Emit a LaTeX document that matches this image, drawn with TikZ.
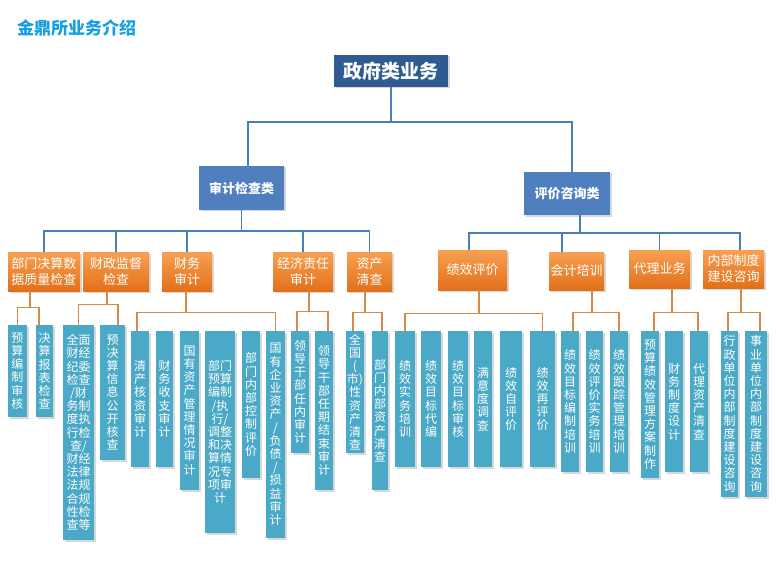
\documentclass[tikz,border=0pt]{standalone}
\usepackage{fontspec}
\setmainfont{Noto Sans CJK SC}
\usetikzlibrary{shadows}
\definecolor{ctitle}{HTML}{16A0E0}
\definecolor{ctop}{HTML}{2F5B92}
\definecolor{clvl}{HTML}{4F7FBE}
\definecolor{corT}{HTML}{F7A052}
\definecolor{corB}{HTML}{E2701A}
\definecolor{cleaf}{HTML}{4AA9C6}
\definecolor{cbl}{HTML}{4A7EBB}
\definecolor{cog}{HTML}{D68A4A}
\newcommand\mkbox[7]{\node[#2, minimum width={#5pt-#3pt}, minimum height={#6pt-#4pt}] (#1) at ({(#3+#5)/2},{(#4+#6)/2}) {#7};}
\tikzset{
  shd/.style={drop shadow={shadow xshift=1.5pt, shadow yshift=-1.5pt, opacity=0.25, fill=black!60}},
  topbox/.style={rectangle, inner sep=0pt, fill=ctop, text=white, shd, font=\fontsize{19}{22}\selectfont\bfseries},
  lvbox/.style={rectangle, inner sep=0pt, fill=clvl, text=white, shd, font=\fontsize{13}{16}\selectfont\bfseries},
  orbox/.style={rectangle, inner sep=0pt, top color=corT, bottom color=corB, text=white, shd, align=center, font=\fontsize{13}{16}\selectfont},
  leaf/.style={rectangle, inner sep=0pt, fill=cleaf, text=white, shd, align=center, font=\fontsize{12}{13.2}\selectfont},
  bl/.style={draw=cbl, line width=1.6pt},
  og/.style={draw=cog, line width=1.3pt}
}
\begin{document}
\begin{tikzpicture}[x=1pt, y=-1pt]
\useasboundingbox (0,0) rectangle (776,572);
\fill[white] (0,0) rectangle (776,572);
\node[anchor=west, text=ctitle, font=\fontsize{17}{20}\selectfont\bfseries, inner sep=0pt] (title) at (17,28) {金鼎所业务介绍};
% top and level 2
\mkbox{top}{topbox}{334}{55}{448}{87}{政府类业务}
\mkbox{audit}{lvbox}{199}{166}{284}{210}{审计检查类}
\mkbox{eval}{lvbox}{524}{172}{610}{215}{评价咨询类}
% level 3
\mkbox{m1}{orbox}{8}{252}{80}{291}{部门决算数\\据质量检查}
\mkbox{m2}{orbox}{83}{252}{149}{291}{财政监督\\检查}
\mkbox{m3}{orbox}{162}{252}{212}{291}{财务\\审计}
\mkbox{m4}{orbox}{273}{252}{333}{291}{经济责任\\审计}
\mkbox{m5}{orbox}{347}{252}{392}{291}{资产\\清查}
\mkbox{m6}{orbox}{438}{250}{507}{290}{绩效评价}
\mkbox{m7}{orbox}{549}{252}{604}{290}{会计培训}
\mkbox{m8}{orbox}{629}{250}{690}{288}{代理业务}
\mkbox{m9}{orbox}{703}{250}{764}{288}{内部制度\\建设咨询}
% leaves
\mkbox{L1}{leaf}{8}{325}{27}{417}{预\\算\\编\\制\\审\\核}
\mkbox{L2}{leaf}{36}{325}{53}{417}{决\\算\\报\\表\\检\\查}
\mkbox{L3}{leaf}{63}{325}{94}{540}{全面\\财经\\纪委\\检查\\/财\\务制\\度执\\行检\\查/\\财经\\法律\\法规\\合规\\性检\\查等}
\mkbox{L4}{leaf}{100}{325}{125}{460}{预\\决\\算\\信\\息\\公\\开\\核\\查}
\mkbox{L5}{leaf}{131}{331}{149}{467}{清\\产\\核\\资\\审\\计}
\mkbox{L6}{leaf}{156}{331}{173}{467}{财\\务\\收\\支\\审\\计}
\mkbox{L7}{leaf}{180}{331}{199}{490}{国\\有\\资\\产\\管\\理\\情\\况\\审\\计}
\mkbox{L8}{leaf}{205}{331}{235}{533}{部门\\预算\\编制\\/执\\行/\\调整\\和决\\算情\\况专\\项审\\计}
\mkbox{L9}{leaf}{242}{331}{260}{478}{部\\门\\内\\部\\控\\制\\评\\价}
\mkbox{L10}{leaf}{266}{331}{285}{538}{国\\有\\企\\业\\资\\产\\/\\负\\债\\/\\损\\益\\审\\计}
\mkbox{L11}{leaf}{291}{331}{309}{453}{领\\导\\干\\部\\任\\内\\审\\计}
\mkbox{L12}{leaf}{315}{331}{333}{490}{领\\导\\干\\部\\任\\期\\结\\束\\审\\计}
\mkbox{L13}{leaf}{346}{331}{364}{453}{全\\国\\(\\市)\\性\\资\\产\\清\\查}
\mkbox{L14}{leaf}{372}{331}{388}{490}{部\\门\\内\\部\\资\\产\\清\\查}
\mkbox{L15}{leaf}{395}{331}{415}{467}{绩\\效\\实\\务\\培\\训}
\mkbox{L16}{leaf}{421}{331}{441}{467}{绩\\效\\目\\标\\代\\编}
\mkbox{L17}{leaf}{448}{331}{468}{467}{绩\\效\\目\\标\\审\\核}
\mkbox{L18}{leaf}{474}{331}{492}{467}{满\\意\\度\\调\\查}
\mkbox{L19}{leaf}{500}{331}{522}{467}{绩\\效\\自\\评\\价}
\mkbox{L20}{leaf}{530}{331}{555}{467}{绩\\效\\再\\评\\价}
\mkbox{L21}{leaf}{561}{331}{579}{472}{绩\\效\\目\\标\\编\\制\\培\\训}
\mkbox{L22}{leaf}{586}{331}{603}{472}{绩\\效\\评\\价\\实\\务\\培\\训}
\mkbox{L23}{leaf}{610}{331}{628}{472}{绩\\效\\跟\\踪\\管\\理\\培\\训}
\mkbox{L24}{leaf}{641}{331}{659}{478}{预\\算\\绩\\效\\管\\理\\方\\案\\制\\作}
\mkbox{L25}{leaf}{665}{331}{683}{472}{财\\务\\制\\度\\设\\计}
\mkbox{L26}{leaf}{690}{331}{708}{472}{代\\理\\资\\产\\清\\查}
\mkbox{L27}{leaf}{721}{331}{738}{497}{行\\政\\单\\位\\内\\部\\制\\度\\建\\设\\咨\\询}
\mkbox{L28}{leaf}{745}{331}{767}{497}{事\\业\\单\\位\\内\\部\\制\\度\\建\\设\\咨\\询}
% blue connectors
\draw[bl] (top.south) -- ++(0,35) coordinate (j0);
\draw[bl] ([xshift=6.5pt]audit.north) |- (j0) -| ([xshift=5pt]eval.north);
\draw[bl] (audit.south) -- ++(0,21) coordinate (j1);
\draw[bl] (m1.north) |- (j1) -| (m5.north);
\draw[bl] (m2.north) -- (m2.north |- j1);
\draw[bl] (m3.north) -- (m3.north |- j1);
\draw[bl] (m4.north) -- (m4.north |- j1);
\draw[bl] ([xshift=13pt]eval.south) -- ++(0,18) coordinate (j2);
\draw[bl] ([xshift=-3.5pt]m6.north) |- (j2) -| ([xshift=6.5pt]m9.north);
\draw[bl] ([xshift=-14.5pt]m7.north) -- ([xshift=-14.5pt]m7.north |- j2);
\draw[bl] (m8.north) -- (m8.north |- j2);
% orange connectors
\draw[og] ([xshift=-14pt]m1.south) -- ++(0,16) coordinate (k1);
\draw[og] (L1.north) |- (k1) -| ([xshift=-5.5pt]L2.north);
\draw[og] ([xshift=-9pt]m2.south) -- ++(0,13) coordinate (k2);
\draw[og] (L3.north) |- (k2) -| ([xshift=5.5pt]L4.north);
\draw[og] ([xshift=-1pt]m3.south) -- ++(0,21) coordinate (k3);
\draw[og] ([xshift=-3pt]L5.north) |- (k3) -| (L10.north);
\draw[og] ([xshift=6pt]m4.south) -- ++(0,20) coordinate (k4);
\draw[og] ([xshift=-3pt]L11.north) |- (k4) -| ([xshift=4pt]L12.north);
\draw[og] ([xshift=-4.5pt]m5.south) -- ++(0,21) coordinate (k5);
\draw[og] ([xshift=-2pt]L13.north) |- (k5) -| ([xshift=2pt]L14.north);
\draw[og] ([xshift=6.5pt]m6.south) -- ++(0,23) coordinate (k6);
\draw[og] (L15.north) |- (k6) -| (L20.north);
\draw[og] ([xshift=15.5pt]m7.south) -- ++(0,22) coordinate (k7);
\draw[og] ([xshift=3pt]L21.north) |- (k7) -| (L23.north);
\draw[og] ([xshift=12.5pt]m8.south) -- ++(0,24) coordinate (k8);
\draw[og] ([xshift=4pt]L24.north) |- (k8) -| ([xshift=-1pt]L26.north);
\draw[og] ([xshift=7.5pt]m9.south) -- ++(0,24) coordinate (k9);
\draw[og] ([xshift=-1.5pt]L27.north) |- (k9) -| ([xshift=4pt]L28.north);
\end{tikzpicture}
\end{document}
